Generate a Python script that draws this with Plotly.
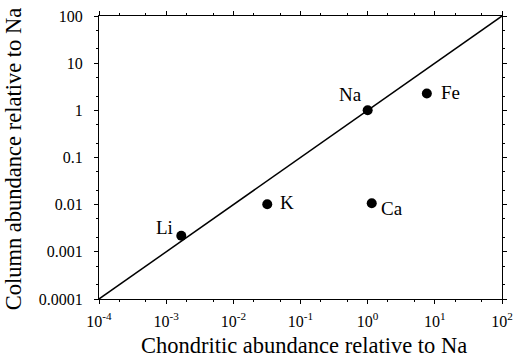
import math
import plotly.graph_objects as go

elements = ["Li", "K", "Ca", "Na", "Fe"]
chondritic = [0.00168, 0.032, 1.15, 1.0, 7.6]
column = [0.0022, 0.0102, 0.0107, 1.0, 2.27]

line_x = [1e-4, 1e2]
line_y = [1e-4, 1e2]

x_tickvals = [1e-4, 1e-3, 1e-2, 1e-1, 1e0, 1e1, 1e2]
x_ticktext = ["10<sup>-4</sup>", "10<sup>-3</sup>", "10<sup>-2</sup>", "10<sup>-1</sup>",
              "10<sup>0</sup>", "10<sup>1</sup>", "10<sup>2</sup>"]
y_tickvals = [1e-4, 1e-3, 1e-2, 1e-1, 1, 10, 100]
y_ticktext = ["0.0001", "0.001", "0.01", "0.1", "1", "10", "100"]

x_title = "Chondritic abundance relative to Na"
y_title = "Column abundance relative to Na"

# label placement styles (anchor, xshift, yshift) per element
label_style = {
    "Li": ("right", -6, 8),
    "K": ("left", 11, 2),
    "Ca": ("left", 7, -5),
    "Na": ("right", -4, 16),
    "Fe": ("left", 12, 1),
}

font = "Liberation Serif"

fig = go.Figure()
fig.add_trace(go.Scatter(x=line_x, y=line_y, mode="lines",
                         line=dict(color="black", width=1.5), hoverinfo="skip"))
fig.add_trace(go.Scatter(x=chondritic, y=column, mode="markers",
                         marker=dict(color="black", size=10)))

for e, xv, yv in zip(elements, chondritic, column):
    anchor, xs, ys = label_style[e]
    fig.add_annotation(x=math.log10(xv), y=math.log10(yv), xref="x", yref="y",
                       text=e, showarrow=False,
                       xanchor=anchor, yanchor="middle", xshift=xs, yshift=ys,
                       font=dict(size=19, family=font, color="black"))

axis_common = dict(type="log", showgrid=False, zeroline=False, showline=True,
                   linecolor="black", linewidth=1, mirror="ticks",
                   ticks="outside", ticklen=4, tickcolor="black", tickwidth=1,
                   minor=dict(ticks="outside", ticklen=2, tickcolor="black", tickwidth=1,
                              showgrid=False),
                   automargin=False,
                   tickfont=dict(size=16, family=font, color="black"))

fig.update_xaxes(**axis_common, range=[-4, 2], tickvals=x_tickvals, ticktext=x_ticktext,
                 ticklabelstandoff=4)
fig.update_yaxes(**axis_common, range=[-4, 2], tickvals=y_tickvals, ticktext=y_ticktext,
                 ticklabelstandoff=8)

fig.add_annotation(xref="paper", yref="paper", x=0.508, y=-0.165, text=x_title,
                   showarrow=False, xanchor="center", yanchor="middle",
                   font=dict(size=22.5, family=font, color="black"))
fig.add_annotation(xref="paper", yref="paper", x=-0.21, y=0.495, text=y_title,
                   showarrow=False, xanchor="center", yanchor="middle", textangle=-90,
                   font=dict(size=22.5, family=font, color="black"))

fig.update_layout(width=514, height=362, showlegend=False,
                  margin=dict(l=99, r=12, t=16, b=63),
                  font=dict(family=font),
                  plot_bgcolor="white", paper_bgcolor="white")

fig.write_html("out.html", config={"displayModeBar": False},
               post_script="document.body.style.margin='0';document.body.style.overflow='hidden';")
